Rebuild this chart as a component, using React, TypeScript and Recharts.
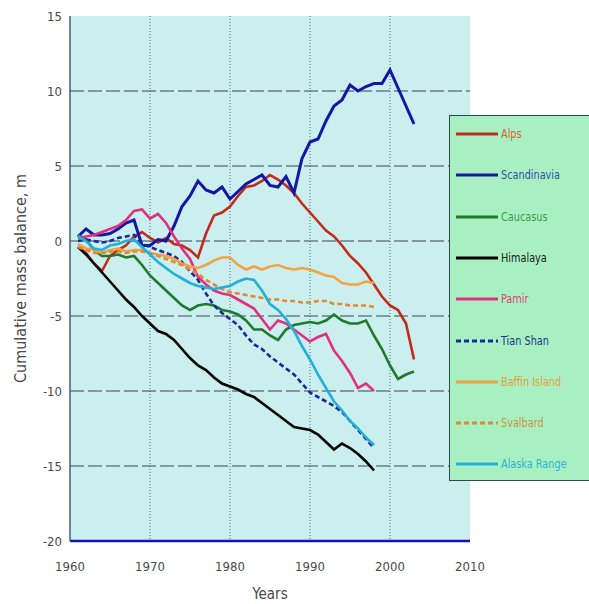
import React from 'react';
import {
  LineChart,
  Line,
  XAxis,
  YAxis,
  CartesianGrid,
  Label,
} from 'recharts';

// annual cumulative mass balance (m)
const YEARS = [
  1961, 1962, 1963, 1964, 1965, 1966, 1967, 1968, 1969, 1970,
  1971, 1972, 1973, 1974, 1975, 1976, 1977, 1978, 1979, 1980,
  1981, 1982, 1983, 1984, 1985, 1986, 1987, 1988, 1989, 1990,
  1991, 1992, 1993, 1994, 1995, 1996, 1997, 1998, 1999, 2000,
  2001, 2002, 2003,
];

const ALPS = [
  -0.4, -0.8, -1.5, -2.0, -1.0, -0.6, -0.3, 0.3, 0.6, 0.2,
  -0.1, 0.2, -0.2, -0.3, -0.6, -1.1, 0.5, 1.7, 1.9, 2.3,
  3.0, 3.6, 3.7, 4.0, 4.4, 4.1, 3.7, 3.2, 2.5, 1.9,
  1.3, 0.7, 0.3, -0.3, -1.0, -1.5, -2.1, -2.9, -3.7, -4.3,
  -4.6, -5.5, -7.9,
];
const SCANDINAVIA = [
  0.3, 0.8, 0.4, 0.4, 0.5, 0.8, 1.2, 1.4, -0.3, -0.3,
  0.1, 0.0, 1.0, 2.3, 3.0, 4.0, 3.4, 3.2, 3.6, 2.8,
  3.3, 3.8, 4.1, 4.4, 3.7, 3.6, 4.3, 3.2, 5.5, 6.6,
  6.8, 8.0, 9.0, 9.4, 10.4, 10.0, 10.3, 10.5, 10.5, 11.4,
  10.2, 9.0, 7.8,
];
const CAUCASUS = [
  0.4, 0.1, -0.6, -1.0, -1.0, -0.9, -1.1, -1.0, -1.6, -2.3,
  -2.8, -3.3, -3.8, -4.3, -4.6, -4.3, -4.2, -4.3, -4.6, -4.7,
  -4.9, -5.3, -5.9, -5.9, -6.3, -6.6, -5.9, -5.6, -5.5, -5.4,
  -5.5, -5.3, -4.9, -5.3, -5.5, -5.5, -5.3, -6.3, -7.2, -8.3,
  -9.2, -8.9, -8.7,
];
const HIMALAYA = [
  -0.4, -0.9, -1.5, -2.1, -2.7, -3.3, -3.9, -4.4, -5.0, -5.5,
  -6.0, -6.2, -6.6, -7.2, -7.8, -8.3, -8.6, -9.1, -9.5, -9.7,
  -9.9, -10.2, -10.4, -10.8, -11.2, -11.6, -12.0, -12.4, -12.5, -12.6,
  -12.9, -13.4, -13.9, -13.5, -13.8, -14.2, -14.7, -15.3,
];
const PAMIR = [
  0.2, 0.3, 0.4, 0.6, 0.8, 1.0, 1.4, 2.0, 2.1, 1.5,
  1.8, 1.2, 0.3, -0.5, -1.2, -2.4, -2.9, -3.3, -3.5, -3.6,
  -3.9, -4.2, -4.5, -5.2, -5.9, -5.3, -5.5, -5.9, -6.3, -6.7,
  -6.4, -6.2, -7.3, -8.0, -8.8, -9.8, -9.5, -10.0,
];
const TIAN_SHAN = [
  0.0, 0.1, 0.0, -0.1, 0.0, 0.2, 0.3, 0.4, -0.2, -0.4,
  -0.6, -0.8, -1.0, -1.4, -2.0, -2.6, -3.5, -4.3, -4.8, -5.2,
  -5.6, -6.3, -6.9, -7.2, -7.7, -8.1, -8.5, -8.9, -9.5, -10.1,
  -10.4, -10.7, -11.0, -11.4, -12.0, -12.6, -13.2, -13.8,
];
const BAFFIN = [
  -0.2, -0.5, -0.6, -0.8, -0.6, -0.5, -0.7, -0.6, -0.6, -0.8,
  -0.9, -1.0, -1.2, -1.5, -1.7, -1.8, -1.6, -1.3, -1.1, -1.1,
  -1.6, -1.9, -1.7, -1.9, -1.7, -1.6, -1.8, -1.9, -1.8, -1.9,
  -2.1, -2.3, -2.4, -2.8, -2.9, -2.9, -2.7, -2.8,
];
const SVALBARD = [
  -0.4, -0.6, -0.8, -0.8, -0.7, -0.7, -0.8, -0.7, -0.7, -0.8,
  -1.0, -1.2, -1.4, -1.6, -1.9, -2.2, -2.6, -2.9, -3.2, -3.4,
  -3.5, -3.6, -3.7, -3.8, -3.9, -3.9, -4.0, -4.0, -4.1, -4.1,
  -4.0, -4.0, -4.2, -4.2, -4.3, -4.3, -4.3, -4.4,
];
const ALASKA = [
  0.3, 0.0, -0.5, -0.6, -0.3, -0.2, 0.0, 0.1, -0.4, -0.9,
  -1.4, -1.8, -2.2, -2.5, -2.8, -3.0, -3.1, -3.2, -3.1, -3.0,
  -2.7, -2.5, -2.6, -3.3, -4.2, -4.6, -5.2, -6.0, -7.0, -7.9,
  -8.9, -9.8, -10.7, -11.3, -12.0, -12.5, -13.1, -13.6,
];

const X_TICKS = [1960, 1970, 1980, 1990, 2000, 2010];
const Y_TICKS = [-20, -15, -10, -5, 0, 5, 10, 15];

const SERIES = [
  { key: 'alps', name: 'Alps', values: ALPS, color: '#c42a1c', text: '#d8642c', dash: undefined },
  { key: 'scandinavia', name: 'Scandinavia', values: SCANDINAVIA, color: '#1616a6', text: '#3050a4', dash: undefined },
  { key: 'caucasus', name: 'Caucasus', values: CAUCASUS, color: '#1e7a2c', text: '#3c9c48', dash: undefined },
  { key: 'himalaya', name: 'Himalaya', values: HIMALAYA, color: '#000000', text: '#202020', dash: undefined },
  { key: 'pamir', name: 'Pamir', values: PAMIR, color: '#e0307e', text: '#e0407c', dash: undefined },
  { key: 'tianshan', name: 'Tian Shan', values: TIAN_SHAN, color: '#1a2a9c', text: '#203484', dash: '5 3' },
  { key: 'baffin', name: 'Baffin Island', values: BAFFIN, color: '#f2a444', text: '#e6a040', dash: undefined },
  { key: 'svalbard', name: 'Svalbard', values: SVALBARD, color: '#e08a34', text: '#d0943a', dash: '5 3' },
  { key: 'alaska', name: 'Alaska Range', values: ALASKA, color: '#22b0d8', text: '#30b2d2', dash: undefined },
];

const data = YEARS.map((year, i) => {
  const row: Record<string, number> = { year };
  SERIES.forEach((s) => {
    if (i < s.values.length) row[s.key] = s.values[i];
  });
  return row;
});

const FONT = "'DejaVu Sans Condensed', 'Liberation Sans', sans-serif";

const GlacierLegend = () => (
  <div
    style={{
      position: 'absolute',
      left: 449,
      top: 115,
      width: 150,
      height: 366,
      background: '#a8f0c2',
      border: '1.5px solid #2a4a4a',
      boxSizing: 'border-box',
    }}
  >
    {SERIES.map((s, i) => (
      <div
        key={s.key}
        style={{
          position: 'absolute',
          left: 6,
          top: 18 + i * 41.3 - 8,
          height: 16,
          display: 'flex',
          alignItems: 'center',
          whiteSpace: 'nowrap',
        }}
      >
        <svg width={42} height={6} style={{ display: 'block' }}>
          <line x1={0} y1={3} x2={42} y2={3} stroke={s.color} strokeWidth={3} strokeDasharray={s.dash} />
        </svg>
        <span
          style={{
            marginLeft: 3,
            fontFamily: FONT,
            fontSize: 12,
            color: s.text,
            display: 'inline-block',
            transform: 'scaleX(0.9)',
            transformOrigin: 'left center',
          }}
        >
          {s.name}
        </span>
      </div>
    ))}
  </div>
);

export default function App() {
  return (
    <div style={{ position: 'fixed', left: 0, top: 0, width: 589, height: 604, overflow: 'hidden', background: '#fff' }}>
      <LineChart width={589} height={604} data={data} margin={{ top: 16, right: 119, bottom: 0, left: 0 }}>
        <CartesianGrid fill="#cbeeee" horizontal={false} stroke="#5a6c78" strokeDasharray="1 2" verticalValues={[1970, 1980, 1990, 2000]} />
        <CartesianGrid fill="none" vertical={false} stroke="#34465a" strokeDasharray="14 4" horizontalValues={[-15, -10, -5, 0, 5, 10]} />
        <XAxis
          dataKey="year"
          type="number"
          domain={[1960, 2010]}
          ticks={X_TICKS}
          height={63}
          tickSize={0}
          tickMargin={21}
          axisLine={{ stroke: '#1414b0', strokeWidth: 2.5 }}
          tick={{ fill: '#4a4a4a', fontSize: 13, fontFamily: FONT }}
        >
          <Label value="Years" position="insideBottom" offset={5} style={{ fill: '#4a4a4a', fontSize: 15, fontFamily: FONT }} />
        </XAxis>
        <XAxis xAxisId="top" orientation="top" type="number" dataKey="year" domain={[1960, 2010]} height={0} tick={false} tickLine={false} axisLine={{ stroke: '#3a4a5a', strokeWidth: 1.5 }} />
        <YAxis
          type="number"
          domain={[-20, 15]}
          ticks={Y_TICKS}
          width={70}
          tickSize={0}
          tickMargin={8}
          interval={0}
          axisLine={{ stroke: '#4a6070', strokeWidth: 1.5 }}
          tick={{ fill: '#4a4a4a', fontSize: 13, fontFamily: FONT }}
        >
          <Label
            value="Cumulative mass balance, m"
            angle={-90}
            position="insideLeft"
            offset={20}
            style={{ textAnchor: 'middle', fill: '#4a4a4a', fontSize: 16, fontFamily: FONT }}
          />
        </YAxis>
        <YAxis yAxisId="right" orientation="right" type="number" domain={[-20, 15]} width={0} tick={false} tickLine={false} axisLine={{ stroke: '#3a4a5a', strokeWidth: 1.5 }} />
        {SERIES.map((s) => (
          <Line
            key={s.key}
            dataKey={s.key}
            name={s.name}
            stroke={s.color}
            strokeWidth={s.key === 'scandinavia' ? 3 : 2.6}
            strokeDasharray={s.dash}
            dot={false}
            activeDot={false}
            type="linear"
            isAnimationActive={false}
          />
        ))}
      </LineChart>
      <GlacierLegend />
    </div>
  );
}
